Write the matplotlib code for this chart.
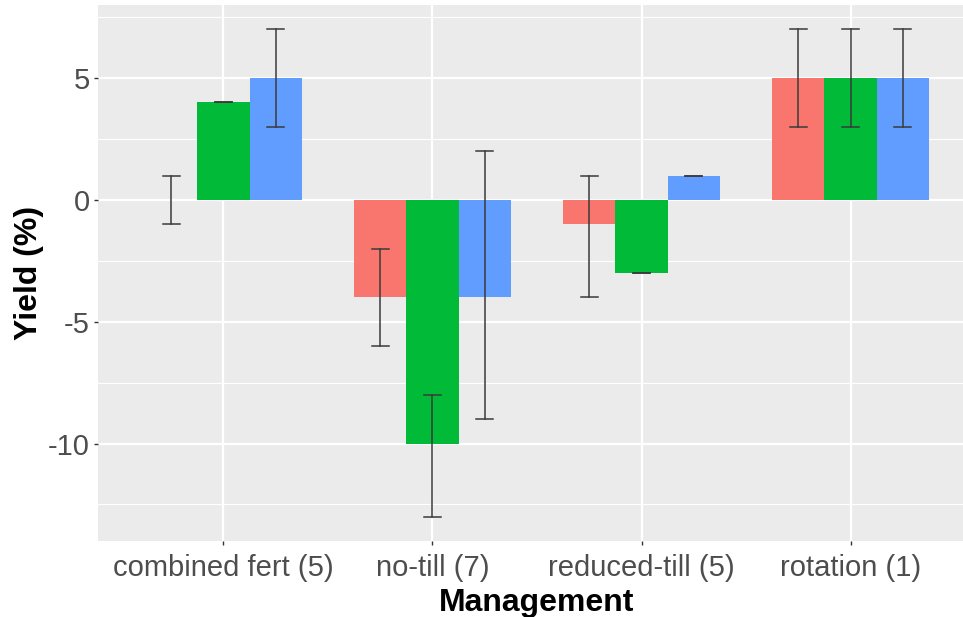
import numpy as np
import matplotlib.pyplot as plt

plt.rcParams['font.family'] = ['Liberation Sans', 'DejaVu Sans']
plt.rcParams['axes.unicode_minus'] = False

# yield change by management practice, three groups per practice
categories = ['combined fert (5)', 'no-till (7)', 'reduced-till (5)', 'rotation (1)']
group_colors = ['#F8766D', '#00BA38', '#619CFF']

yield_mean = [
    [0, -4, -1, 5],
    [4, -10, -3, 5],
    [5, -4, 1, 5],
]
yield_low = [
    [-1, -6, -4, 3],
    [4, -13, -3, 3],
    [3, -9, 1, 3],
]
yield_high = [
    [1, -2, 1, 7],
    [4, -8, -3, 7],
    [7, 2, 1, 7],
]

W, H = 963, 617
fig = plt.figure(figsize=(W / 100, H / 100), dpi=100)
ax = fig.add_axes([98 / W, 1 - 541 / H, 878 / W, 536 / H])
ax.set_facecolor('#EBEBEB')

x = np.arange(len(categories))
bar_w = 0.25
cap = 0.04
for g in range(3):
    pos = x + (g - 1) * bar_w
    ax.bar(pos, yield_mean[g], width=bar_w, color=group_colors[g], zorder=3)
    for p, lo, hi in zip(pos, yield_low[g], yield_high[g]):
        ax.plot([p, p], [lo, hi], color='#3A3A3A', lw=1.1, zorder=4)
        ax.plot([p - cap, p + cap], [lo, lo], color='#3A3A3A', lw=1.1, zorder=4)
        ax.plot([p - cap, p + cap], [hi, hi], color='#3A3A3A', lw=1.1, zorder=4)

ax.set_xlim(-0.6, len(categories) - 1 + 0.6)
ax.set_ylim(-14.0, 8.0)
ax.set_xticks(x)
ax.set_xticklabels(categories)
ax.set_yticks([-10, -5, 0, 5])
ax.set_yticks([-12.5, -7.5, -2.5, 2.5, 7.5], minor=True)

ax.grid(True, which='major', color='white', lw=1.6, zorder=1)
ax.grid(True, which='minor', axis='y', color='white', lw=0.8, zorder=1)
for s in ax.spines.values():
    s.set_visible(False)

ax.tick_params(axis='both', which='major', length=3, width=1, color='#333333',
               labelsize=21, labelcolor='#4D4D4D', pad=3)
ax.tick_params(axis='x', which='major', pad=6)
ax.tick_params(axis='both', which='minor', length=0)

ax.set_xlabel('Management', fontsize=23, fontweight='bold', labelpad=5)
ax.set_ylabel('Yield (%)', fontsize=23, fontweight='bold', labelpad=3)

fig.savefig('out.png', dpi=100)
